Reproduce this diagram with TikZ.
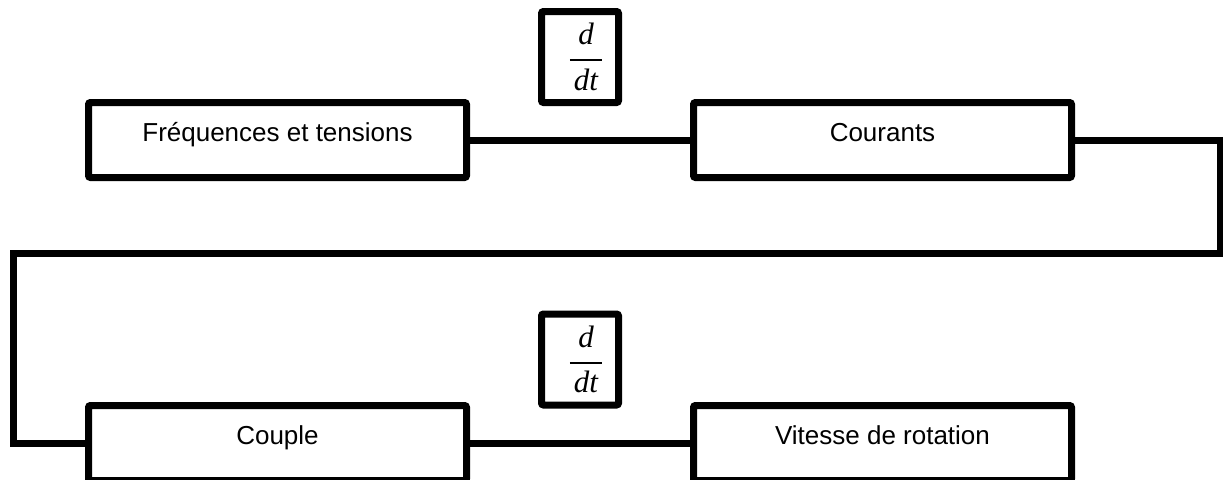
\documentclass[tikz,border=0pt]{standalone}
\usepackage{amsmath}
\usepackage{fontspec}
\setmainfont{Liberation Sans}
\newfontfamily\dtfont{Liberation Serif}
\usepackage{tikz}
\tikzset{rounded corners=0}
\newcommand{\derivee}{\hspace{6pt}$\genfrac{}{}{1pt}{0}{\raisebox{1.5pt}{d}}{\raisebox{-1.5pt}{\hspace{2pt}dt\hspace{2pt}}}$}

\begin{document}
\begin{tikzpicture}[x=.5pt,y=-.5pt,line width=3.5pt,
	bloc/.style={draw,rounded corners=1pt,minimum width=189pt,minimum height=37.5pt,
		text height=10pt,text depth=9pt,font=\fontsize{13}{15}\selectfont},
	deriv/.style={draw,rounded corners=1pt,minimum width=38.5pt,minimum height=45.5pt,inner sep=0pt,
		font=\fontsize{15.5}{18}\selectfont\dtfont\itshape}]
	\clip (0,0) rectangle (1223,479);
	\node[bloc] (freq) at (277.5,140) {Fréquences et tensions};
	\node[bloc] (cour) at (882.5,140) {Courants};
	\node[bloc] (coup) at (277.5,443) {Couple};
	\node[bloc] (vit) at (882.5,443) {Vitesse de rotation};
	\node[deriv] (dtA) at (580,57) {\derivee};
	\node[deriv] (dtB) at (580,359.5) {\derivee};
	\coordinate (retourD) at (1220,253.5);
	\coordinate (retourG) at (13,253.5);
	\draw (freq) -- (cour);
	\draw (coup) -- (vit);
	\draw (cour.east) -| (retourD) -- (retourG) |- (coup.west);
\end{tikzpicture}
\end{document}
